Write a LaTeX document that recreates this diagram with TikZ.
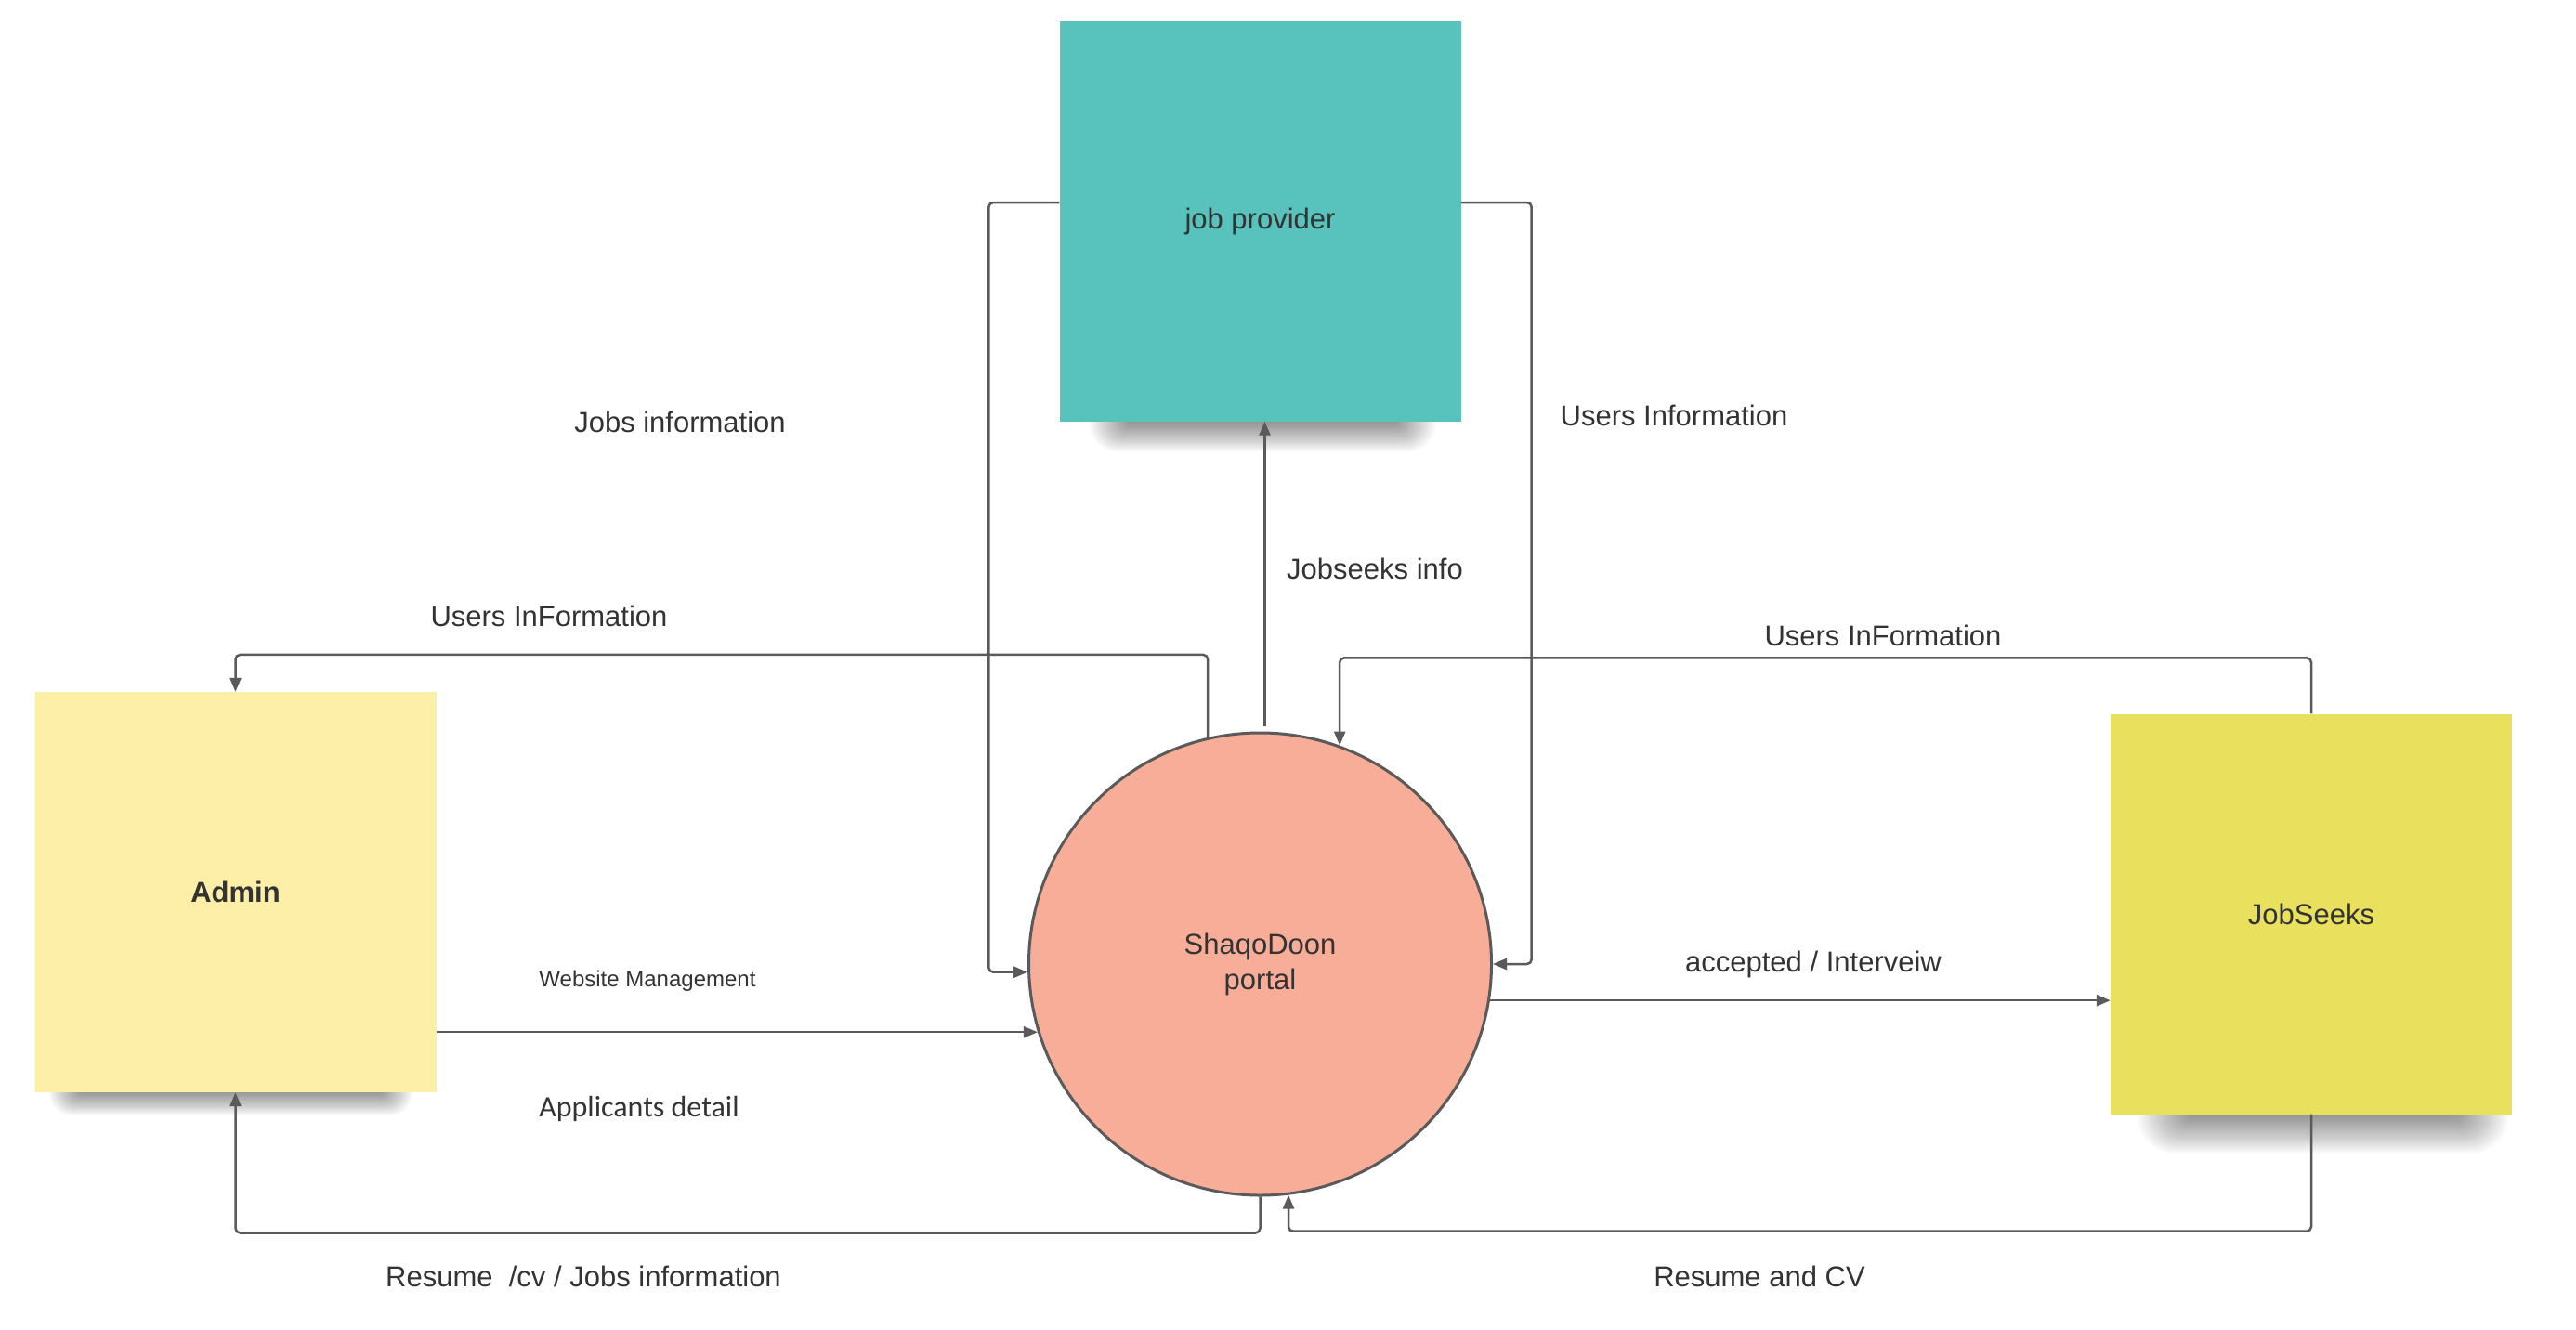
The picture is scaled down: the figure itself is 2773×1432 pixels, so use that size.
\documentclass[tikz,border=0pt]{standalone}
\usepackage{fontspec}
\setmainfont{Liberation Sans}
\newfontfamily\carl{Carlito}
\usetikzlibrary{arrows.meta,backgrounds}
\definecolor{teal1}{RGB}{88,194,189}
\definecolor{adminyel}{RGB}{254,239,168}
\definecolor{jsyel}{RGB}{233,225,94}
\definecolor{salmon1}{RGB}{247,173,151}
\definecolor{linegray}{RGB}{90,90,90}
\definecolor{txt}{RGB}{51,51,51}
\tikzset{
  entity/.style={rectangle, draw=none, minimum width=432pt, minimum height=431pt,
    inner sep=0pt, text=txt, font=\fontsize{31}{36}\selectfont},
  procnode/.style={circle, draw=linegray, line width=3pt, fill=salmon1,
    minimum size=498pt, inner sep=0pt, text=txt, align=center,
    font=\fontsize{31}{38}\selectfont},
  flow/.style={draw=linegray, line width=2.5pt, rounded corners=5pt,
    -{Triangle[length=15pt,width=12pt]}},
  lbl/.style={text=txt, inner sep=0pt, font=\fontsize{31}{36}\selectfont},
  smalllbl/.style={text=txt, inner sep=0pt, font=\fontsize{24}{28}\selectfont},
  shadowlayer/.style={fill=black, opacity=0.022},
}
% #1 node, #2 core bottom offset, #3 step, #4 left inset, #5 right inset
\newcommand\myboxshadow[5]{%
  \foreach \k in {0,...,19}{%
    \fill[shadowlayer, rounded corners={(\k+2)*#3*0.9pt}]
      ([xshift={#4-\k*#3*1.4pt}, yshift={30pt}]#1.south west) rectangle
      ([xshift={-#5+\k*#3*1.4pt}, yshift={-#2-\k*#3*1pt}]#1.south east);
  }}
\begin{document}
\begin{tikzpicture}[x=1pt,y=-1pt]
\useasboundingbox (0,0) rectangle (2773,1432);

\node[entity, fill=teal1] (jp) at (1356.5,238) {job provider};
\node[entity, fill=adminyel, font=\bfseries\fontsize{31}{36}\selectfont] (admin) at (253.5,960.5) {Admin};
\node[entity, fill=jsyel] (js) at (2488,984) {JobSeeks};
\node[procnode] (portal) at (1356.5,1038) {ShaqoDoon\\portal};

\begin{scope}[on background layer]
\fill[white] (0,0) rectangle (2773,1432);
\myboxshadow{jp}{2pt}{1.6}{75pt}{70pt}
\myboxshadow{admin}{0pt}{1.3}{50pt}{60pt}
\myboxshadow{js}{2pt}{2.1}{85pt}{60pt}
\end{scope}

% connectors
\draw[flow] ([yshift=20pt]jp.west) -- ++(-76pt,0) |- (portal.182.5);
\draw[flow] ([yshift=20pt]jp.east) -- ++(76pt,0) |- (portal.east);
\draw[flow] ([xshift=5pt,yshift=6pt]portal.north) -- ([xshift=5pt]jp.south);
\draw[flow] (portal.103) -- ++(0,89pt) -| (admin.north);
\draw[flow] (js.north) -- ++(0,60pt) -| (portal.70.8);
\draw[flow] (portal.-9) -- (portal.-9 -| js.west);
\draw[flow] (admin.east |- portal.197.3) -- (portal.197.3);
\draw[flow] (portal.south) -- ++(0,-39pt) -| (admin.south);
\draw[flow] (js.south) -- ++(0,-126pt) -| (portal.277.4);

% labels
\node[lbl] (l1) at (732,454) {Jobs information};
\node[lbl] (l2) at (1802,447) {Users Information};
\node[lbl] (l3) at (1480,612) {Jobseeks info};
\node[lbl] (l4) at (591,663) {Users InFormation};
\node[lbl] (l5) at (2027,684) {Users InFormation};
\node[lbl] (l6) at (1952,1038) {accepted / Interveiw};
\node[smalllbl] (l7) at (697,1056) {Website Management};
\node[lbl, font=\carl\fontsize{32}{36}\selectfont] (l8) at (688,1194) {Applicants detail};
\node[lbl] (l9) at (628,1374) {Resume \ /cv / Jobs information};
\node[lbl] (l10) at (1894,1374) {Resume and CV};
\end{tikzpicture}
\end{document}
